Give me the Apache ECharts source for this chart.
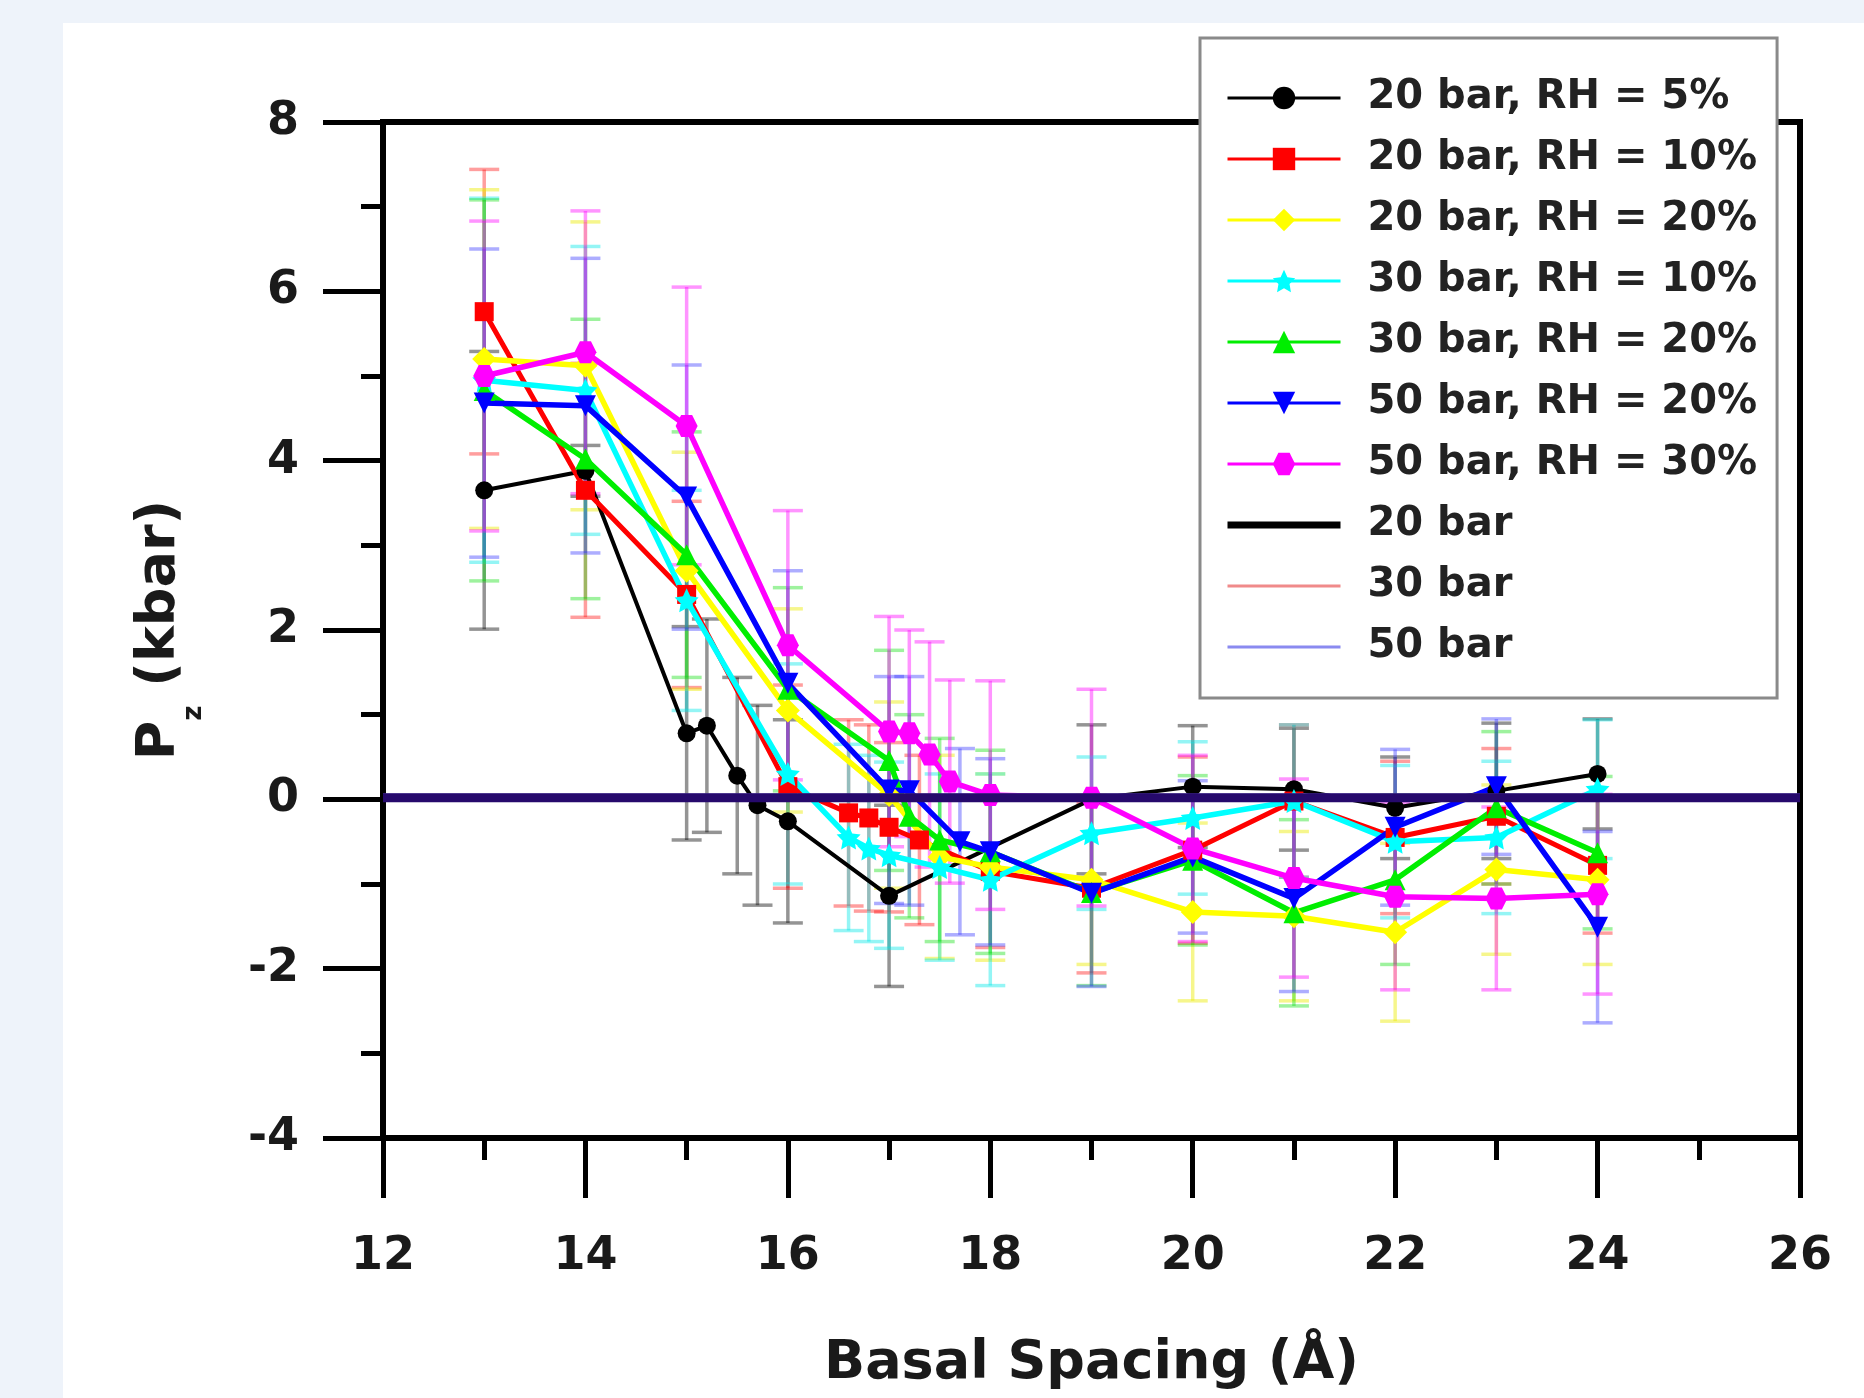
<!DOCTYPE html>
<html>
<head>
<meta charset="utf-8">
<script src="https://cdn.jsdelivr.net/npm/echarts@6/dist/echarts.min.js"></script>
<style>
  html, body { margin: 0; padding: 0; background: #eef3fa; }
  #panel { position: absolute; left: 63px; top: 23px; width: 1801px; height: 1375px; background: #ffffff; }
  #chart { position: absolute; left: 0; top: 0; width: 1864px; height: 1398px; }
</style>
</head>
<body>
<div id="panel"></div>
<div id="chart"></div>
<script>
// ---------- data ----------
const seriesNames = ['20 bar, RH = 5%', '20 bar, RH = 10%', '20 bar, RH = 20%', '30 bar, RH = 10%',
                     '30 bar, RH = 20%', '50 bar, RH = 20%', '50 bar, RH = 30%', '20 bar', '30 bar', '50 bar'];

const bk_x = [13, 14, 15, 15.2, 15.5, 15.7, 16, 17, 19, 20, 21, 22, 23, 24];
const bk_y = [3.65, 3.88, 0.78, 0.87, 0.28, -0.07, -0.26, -1.14, 0.0, 0.15, 0.12, -0.1, 0.1, 0.3];
const bk_e = [1.64, 0.3, 1.26, 1.26, 1.16, 1.18, 1.2, 1.07, 0.88, 0.72, 0.72, 0.6, 0.8, 0.65];

const rd_x = [13, 14, 15, 16, 16.6, 16.8, 17, 17.3, 18, 19, 20, 21, 22, 23, 24];
const rd_y = [5.76, 3.65, 2.42, 0.15, -0.16, -0.22, -0.33, -0.48, -0.85, -1.05, -0.6, -0.02, -0.45, -0.2, -0.78];
const rd_e = [1.68, 1.5, 1.1, 1.2, 1.1, 1.1, 1.0, 1.0, 0.9, 1.0, 1.1, 0.9, 0.9, 0.8, 0.8];

const yl_x = [13, 14, 15, 16, 17, 17.5, 18, 19, 20, 21, 22, 23, 24];
const yl_y = [5.2, 5.12, 2.7, 1.05, 0.05, -0.68, -0.8, -0.95, -1.33, -1.38, -1.57, -0.83, -0.95];
const yl_e = [2.0, 1.7, 1.4, 1.2, 1.1, 1.2, 1.1, 1.0, 1.05, 1.0, 1.05, 1.0, 1.0];

const cy_x = [13, 14, 15, 16, 16.6, 16.8, 17, 17.5, 18, 19, 20, 21, 22, 23, 24];
const cy_y = [4.95, 4.83, 2.35, 0.3, -0.45, -0.58, -0.66, -0.8, -0.95, -0.4, -0.22, -0.02, -0.5, -0.45, 0.12];
const cy_e = [2.15, 1.7, 1.3, 1.3, 1.1, 1.1, 1.1, 1.1, 1.25, 0.9, 0.9, 0.9, 0.9, 0.9, 0.82];

const gn_x = [13, 14, 15, 16, 17, 17.2, 17.5, 18, 19, 20, 21, 22, 23, 24];
const gn_y = [4.83, 4.02, 2.89, 1.3, 0.46, -0.2, -0.48, -0.62, -1.1, -0.72, -1.34, -0.95, -0.1, -0.63];
const gn_e = [2.25, 1.65, 1.45, 1.2, 1.3, 1.2, 1.2, 1.2, 1.1, 1.0, 1.1, 1.0, 0.9, 0.9];

const bl_x = [13, 14, 15, 16, 17, 17.2, 17.7, 18, 19, 20, 21, 22, 23, 24];
const bl_y = [4.68, 4.65, 3.57, 1.37, 0.11, 0.1, -0.5, -0.62, -1.11, -0.68, -1.17, -0.33, 0.15, -1.51];
const bl_e = [1.82, 1.74, 1.56, 1.33, 1.34, 1.35, 1.1, 1.1, 1.1, 0.9, 1.1, 0.92, 0.8, 1.13];

const mg_x = [13, 14, 15, 16, 17, 17.2, 17.4, 17.6, 18, 19, 20, 21, 22, 23, 24];
const mg_y = [5.0, 5.28, 4.41, 1.82, 0.8, 0.78, 0.53, 0.21, 0.05, 0.02, -0.58, -0.93, -1.15, -1.17, -1.12];
const mg_e = [1.83, 1.67, 1.64, 1.59, 1.36, 1.22, 1.33, 1.2, 1.35, 1.28, 1.1, 1.17, 1.1, 1.08, 1.18];

// bulk-pressure reference lines (kbar)
const bulk_x = [12, 26];
const bulk20 = [0.02, 0.02];
const bulk30 = [0.03, 0.03];
const bulk50 = [0.05, 0.05];

// ---------- styling ----------
const FONT = "'DejaVu Sans', sans-serif";
const TXT = '#1a1a1a';

const defs = [
  { name: seriesNames[0], xs: bk_x, ys: bk_y, es: bk_e, color: '#000000', err: 'rgba(0,0,0,0.42)', symbol: 'circle', size: 18, lw: 4 },
  { name: seriesNames[1], xs: rd_x, ys: rd_y, es: rd_e, color: '#ff0000', err: 'rgba(255,0,0,0.38)', symbol: 'rect', size: 19, lw: 5 },
  { name: seriesNames[2], xs: yl_x, ys: yl_y, es: yl_e, color: '#ffff00', err: 'rgba(235,235,0,0.45)', symbol: 'diamond', size: 24, lw: 5.5 },
  { name: seriesNames[3], xs: cy_x, ys: cy_y, es: cy_e, color: '#00ffff', err: 'rgba(0,230,230,0.42)',
    symbol: 'path://M0,-10L2.9,-4L9.5,-3.1L4.7,1.5L5.9,8.1L0,5L-5.9,8.1L-4.7,1.5L-9.5,-3.1L-2.9,-4Z', size: 24, lw: 5.5 },
  { name: seriesNames[4], xs: gn_x, ys: gn_y, es: gn_e, color: '#00ee00', err: 'rgba(0,220,0,0.38)', symbol: 'triangle', size: 21, lw: 5.5 },
  { name: seriesNames[5], xs: bl_x, ys: bl_y, es: bl_e, color: '#0000ff', err: 'rgba(60,60,255,0.42)',
    symbol: 'path://M-10,-8L10,-8L0,10Z', size: 21, lw: 5.5 },
  { name: seriesNames[6], xs: mg_x, ys: mg_y, es: mg_e, color: '#ff00ff', err: 'rgba(255,0,255,0.42)',
    symbol: 'path://M10,0L5,8.66L-5,8.66L-10,0L-5,-8.66L5,-8.66Z', size: 22, lw: 5.5 }
];

const series = [];

// error bars (drawn through the axes with a custom series)
defs.forEach((d, i) => {
  series.push({
    type: 'custom',
    name: 'err' + i,
    z: 1,
    silent: true,
    encode: { x: 0, y: [1, 2] },
    data: d.xs.map((x, j) => [x, d.ys[j] - d.es[j], d.ys[j] + d.es[j]]),
    renderItem: function (params, api) {
      const x = api.value(0);
      const top = api.coord([x, api.value(2)]);
      const bot = api.coord([x, api.value(1)]);
      const hw = 15;
      const st = { stroke: d.err, lineWidth: 3.5 };
      return {
        type: 'group',
        children: [
          { type: 'line', shape: { x1: top[0], y1: top[1], x2: bot[0], y2: bot[1] }, style: st },
          { type: 'line', shape: { x1: top[0] - hw, y1: top[1], x2: top[0] + hw, y2: top[1] }, style: st },
          { type: 'line', shape: { x1: bot[0] - hw, y1: bot[1], x2: bot[0] + hw, y2: bot[1] }, style: st }
        ]
      };
    }
  });
});

// data lines with markers
defs.forEach((d) => {
  series.push({
    type: 'line',
    name: d.name,
    z: 2,
    data: d.xs.map((x, j) => [x, d.ys[j]]),
    symbol: d.symbol,
    symbolSize: d.size,
    showSymbol: true,
    lineStyle: { color: d.color, width: d.lw },
    itemStyle: { color: d.color, borderWidth: 0 }
  });
});

// bulk pressure lines
series.push({
  type: 'line', name: '30 bar', z: 3, symbol: 'none',
  data: bulk_x.map((x, j) => [x, bulk30[j]]),
  lineStyle: { color: '#f08a8a', width: 3 }, itemStyle: { color: '#f08a8a' }
});
series.push({
  type: 'line', name: '50 bar', z: 3, symbol: 'none',
  data: bulk_x.map((x, j) => [x, bulk50[j]]),
  lineStyle: { color: '#8a8af0', width: 3 }, itemStyle: { color: '#8a8af0' }
});
series.push({
  type: 'line', name: '20 bar', z: 4, symbol: 'none',
  data: bulk_x.map((x, j) => [x, bulk20[j]]),
  lineStyle: { color: '#26096c', width: 9 }, itemStyle: { color: '#000' }
});

const legendData = seriesNames.map(n => {
  if (n === '20 bar') return { name: n, lineStyle: { color: '#000', width: 7 }, itemStyle: { opacity: 0 } };
  if (n === '30 bar' || n === '50 bar') return { name: n, lineStyle: { width: 3 }, itemStyle: { opacity: 0 } };
  return { name: n };
});

const option = {
  animation: false,
  backgroundColor: 'transparent',
  grid: {
    left: 383, top: 122, width: 1417, height: 1016,
    show: true, borderColor: '#000', borderWidth: 6, backgroundColor: 'transparent'
  },
  xAxis: {
    type: 'value', min: 12, max: 26, interval: 2,
    axisLine: { show: true, onZero: false, lineStyle: { color: '#000', width: 6 } },
    axisTick: { show: true, inside: false, length: 60, lineStyle: { color: '#000', width: 5 } },
    minorTick: { show: true, splitNumber: 2, length: 22, lineStyle: { color: '#000', width: 5 } },
    splitLine: { show: false },
    axisLabel: { fontSize: 46, fontWeight: 'bold', fontFamily: FONT, color: TXT, margin: 96 },
    name: 'Basal Spacing (Å)', nameLocation: 'middle', nameGap: 199,
    nameTextStyle: { fontSize: 54, fontWeight: 'bold', fontFamily: FONT, color: TXT }
  },
  yAxis: {
    type: 'value', min: -4, max: 8, interval: 2,
    axisLine: { show: true, onZero: false, lineStyle: { color: '#000', width: 6 } },
    axisTick: { show: true, inside: false, length: 60, lineStyle: { color: '#000', width: 5 } },
    minorTick: { show: true, splitNumber: 2, length: 22, lineStyle: { color: '#000', width: 5 } },
    splitLine: { show: false },
    axisLabel: { fontSize: 46, fontWeight: 'bold', fontFamily: FONT, color: TXT, margin: 84 },
    name: '{a|P}{b|z}{a| (kbar)}', nameLocation: 'middle', nameGap: 193, nameRotate: 90,
    nameTextStyle: {
      rich: {
        a: { fontSize: 54, fontWeight: 'bold', fontFamily: FONT, color: TXT, lineHeight: 60 },
        b: { fontSize: 26, fontWeight: 'bold', fontFamily: FONT, color: TXT, lineHeight: 26, padding: [68, 0, 0, 0] }
      }
    }
  },
  legend: {
    orient: 'vertical',
    left: 1200, top: 38,
    padding: [38, 20, 29, 24],
    itemWidth: 113, itemHeight: 28, itemGap: 17,
    backgroundColor: '#ffffff',
    borderColor: '#8a8a8a', borderWidth: 3, borderRadius: 0,
    lineStyle: { width: 3 },
    textStyle: { fontSize: 40, fontWeight: 'bold', fontFamily: FONT, color: '#222', lineHeight: 44, padding: [0, 0, 0, 22] },
    data: legendData,
    selectedMode: false
  },
  series: series
};

const chart = echarts.init(document.getElementById('chart'), null, { renderer: 'canvas' });
chart.setOption(option);
</script>
</body>
</html>
